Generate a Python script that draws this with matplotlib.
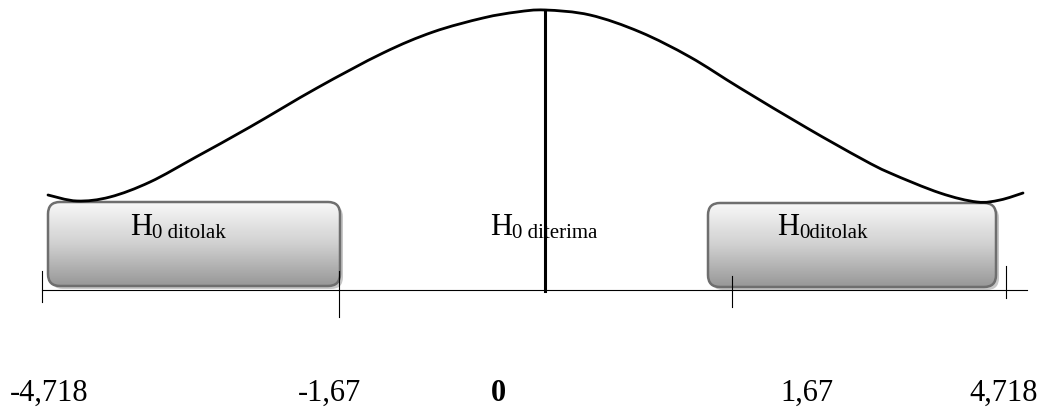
import matplotlib
matplotlib.use("Agg")
import matplotlib.pyplot as plt
import numpy as np
from matplotlib.patches import FancyBboxPatch, PathPatch
from matplotlib.path import Path
from matplotlib.colors import LinearSegmentedColormap

# kurva (koordinat piksel)
kurva_x = [48, 77, 110, 150, 196, 250, 317, 383, 433, 483, 517, 545,
           590, 640, 690, 740, 807, 862, 890, 940, 977, 1000, 1023]
kurva_y = [195, 201, 197, 182, 157, 127, 88, 53, 32, 18, 12, 10,
           15, 32, 57, 88, 128, 159, 173, 193, 202, 200, 193]

# garis sumbu dan tanda
sumbu_x = [42, 1027]
sumbu_y = 290
tanda_x = [42, 339, 732, 1006]
tanda_atas = [271, 271, 276, 266]
tanda_bawah = [302, 317, 307, 298]

# label nilai
label_nilai = ["-4,718", "-1,67", "0", "1,67", "4,718"]
label_x = [10, 298, 491, 780, 969]
label_tebal = [False, False, True, False, False]

# kotak daerah
kotak = [(48, 202, 340, 286), (708, 203, 996, 287)]

# teks H0
teks_sub = ["0 ditolak", "0 diterima", "0ditolak"]
teks_x = [130, 490, 777]

fig = plt.figure(figsize=(10.45, 4.07), dpi=100)
ax = fig.add_axes([0, 0, 1, 1])
ax.set_xlim(0, 1045)
ax.set_ylim(407, 0)
ax.axis("off")

cmap_kotak = LinearSegmentedColormap.from_list("g", ["#f8f8f8", "#d0d0d0", "#979797"])
gradien = np.linspace(0, 1, 256).reshape(-1, 1)
for (x0, y0, x1, y1) in kotak:
    bayangan = FancyBboxPatch((x0 + 3, y0 + 3), x1 - x0, y1 - y0,
                              boxstyle="round,pad=0,rounding_size=12",
                              fc="#c8c8c8", ec="none", zorder=1)
    ax.add_patch(bayangan)
    patch = FancyBboxPatch((x0, y0), x1 - x0, y1 - y0,
                           boxstyle="round,pad=0,rounding_size=12",
                           fc="none", ec="#6e6e6e", lw=1.8, zorder=3)
    ax.add_patch(patch)
    im = ax.imshow(gradien, cmap=cmap_kotak, extent=(x0, x1, y1, y0),
                   origin="upper", aspect="auto", zorder=2)
    im.set_clip_path(patch)

ax.set_xlim(0, 1045)
ax.set_ylim(407, 0)

# kurva halus lewat titik-titik (Catmull-Rom -> Bezier)
p = np.column_stack([kurva_x, kurva_y]).astype(float)
verts = [p[0]]
codes = [Path.MOVETO]
for i in range(len(p) - 1):
    p0 = p[i - 1] if i > 0 else p[i]
    p3 = p[i + 2] if i + 2 < len(p) else p[i + 1]
    c1 = p[i] + (p[i + 1] - p0) / 6
    c2 = p[i + 1] - (p3 - p[i]) / 6
    verts += [c1, c2, p[i + 1]]
    codes += [Path.CURVE4] * 3
ax.add_patch(PathPatch(Path(verts, codes), fc="none", ec="black", lw=2.0,
                       capstyle="round", zorder=4))

# sumbu
ax.plot(sumbu_x, [sumbu_y, sumbu_y], color="black", lw=0.8, zorder=4)
for tx, ta, tb in zip(tanda_x, tanda_atas, tanda_bawah):
    ax.plot([tx, tx], [ta, tb], color="black", lw=0.8, zorder=4)

# teks H0
for s, tx in zip(teks_sub, teks_x):
    ax.text(tx, 235, "H", fontsize=22, family="Liberation Serif",
            va="baseline", ha="left", zorder=5)
    ax.text(tx + 22, 238, s, fontsize=15, family="Liberation Serif",
            va="baseline", ha="left", zorder=5)

# garis tengah
ax.plot([545, 545], [10, 291], color="black", lw=2.2, zorder=6)

# label nilai
for lab, lx, tebal in zip(label_nilai, label_x, label_tebal):
    ax.text(lx, 401, lab, fontsize=22, family="Liberation Serif",
            fontweight="bold" if tebal else "normal",
            va="baseline", ha="left")

fig.savefig("out.png", dpi=100)
